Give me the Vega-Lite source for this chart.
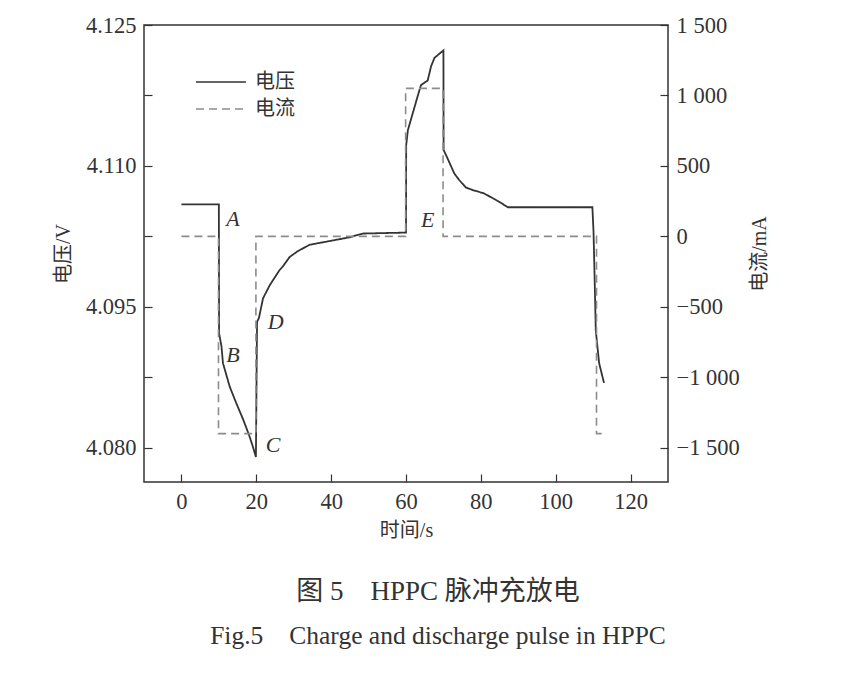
{
  "$schema": "https://vega.github.io/schema/vega-lite/v6.json",
  "width": 524,
  "height": 457,
  "autosize": {"type": "none"},
  "padding": {"left": 144, "top": 25, "right": 196, "bottom": 204},
  "background": "white",
  "title": {
    "text": "图 5　HPPC 脉冲充放电",
    "subtitle": "Fig.5　Charge and discharge pulse in HPPC",
    "orient": "bottom",
    "anchor": "middle",
    "offset": 38,
    "dx": 32,
    "font": "Liberation Serif, Noto Sans CJK SC",
    "fontSize": 27,
    "fontWeight": "normal",
    "color": "#333333",
    "subtitleFont": "Liberation Serif",
    "subtitleFontSize": 25.5,
    "subtitleColor": "#333333",
    "subtitlePadding": 18
  },
  "datasets": {
    "voltage": [
      {"i": 0, "t": 0, "V": 4.1059, "series": "电压"},
      {"i": 1, "t": 10.0, "V": 4.1059, "series": "电压"},
      {"i": 2, "t": 10.05, "V": 4.0922, "series": "电压"},
      {"i": 3, "t": 10.7, "V": 4.0908, "series": "电压"},
      {"i": 4, "t": 11.1, "V": 4.089, "series": "电压"},
      {"i": 5, "t": 12.9, "V": 4.0865, "series": "电压"},
      {"i": 6, "t": 14.7, "V": 4.0847, "series": "电压"},
      {"i": 7, "t": 16.5, "V": 4.083, "series": "电压"},
      {"i": 8, "t": 18.2, "V": 4.0812, "series": "电压"},
      {"i": 9, "t": 19.1, "V": 4.0801, "series": "电压"},
      {"i": 10, "t": 19.9, "V": 4.079, "series": "电压"},
      {"i": 11, "t": 20.2, "V": 4.0934, "series": "电压"},
      {"i": 12, "t": 20.7, "V": 4.0938, "series": "电压"},
      {"i": 13, "t": 21.8, "V": 4.0959, "series": "电压"},
      {"i": 14, "t": 23.6, "V": 4.0973, "series": "电压"},
      {"i": 15, "t": 26.2, "V": 4.0989, "series": "电压"},
      {"i": 16, "t": 27.1, "V": 4.0993, "series": "电压"},
      {"i": 17, "t": 28.9, "V": 4.1003, "series": "电压"},
      {"i": 18, "t": 31.0, "V": 4.1009, "series": "电压"},
      {"i": 19, "t": 34.2, "V": 4.1016, "series": "电压"},
      {"i": 20, "t": 39.6, "V": 4.102, "series": "电压"},
      {"i": 21, "t": 44.9, "V": 4.1024, "series": "电压"},
      {"i": 22, "t": 48.5, "V": 4.1028, "series": "电压"},
      {"i": 23, "t": 60.0, "V": 4.1029, "series": "电压"},
      {"i": 24, "t": 60.05, "V": 4.1122, "series": "电压"},
      {"i": 25, "t": 60.5, "V": 4.1138, "series": "电压"},
      {"i": 26, "t": 61.8, "V": 4.1156, "series": "电压"},
      {"i": 27, "t": 63.1, "V": 4.1174, "series": "电压"},
      {"i": 28, "t": 64.0, "V": 4.1186, "series": "电压"},
      {"i": 29, "t": 65.8, "V": 4.1191, "series": "电压"},
      {"i": 30, "t": 66.7, "V": 4.1206, "series": "电压"},
      {"i": 31, "t": 67.6, "V": 4.1215, "series": "电压"},
      {"i": 32, "t": 69.4, "V": 4.1221, "series": "电压"},
      {"i": 33, "t": 70.0, "V": 4.1223, "series": "电压"},
      {"i": 34, "t": 70.05, "V": 4.1117, "series": "电压"},
      {"i": 35, "t": 71.1, "V": 4.1108, "series": "电压"},
      {"i": 36, "t": 72.9, "V": 4.1092, "series": "电压"},
      {"i": 37, "t": 74.2, "V": 4.1085, "series": "电压"},
      {"i": 38, "t": 76.0, "V": 4.1077, "series": "电压"},
      {"i": 39, "t": 78.0, "V": 4.1074, "series": "电压"},
      {"i": 40, "t": 80.7, "V": 4.1071, "series": "电压"},
      {"i": 41, "t": 84.4, "V": 4.1063, "series": "电压"},
      {"i": 42, "t": 87.2, "V": 4.1056, "series": "电压"},
      {"i": 43, "t": 109.8, "V": 4.1056, "series": "电压"},
      {"i": 44, "t": 110.1, "V": 4.103, "series": "电压"},
      {"i": 45, "t": 110.4, "V": 4.098, "series": "电压"},
      {"i": 46, "t": 110.7, "V": 4.0925, "series": "电压"},
      {"i": 47, "t": 111.6, "V": 4.089, "series": "电压"},
      {"i": 48, "t": 112.9, "V": 4.0869, "series": "电压"}
    ],
    "current": [
      {"i": 0, "t": 0, "I": 0, "series": "电流"},
      {"i": 1, "t": 9.9, "I": 0, "series": "电流"},
      {"i": 2, "t": 9.9, "I": -1400, "series": "电流"},
      {"i": 3, "t": 19.9, "I": -1400, "series": "电流"},
      {"i": 4, "t": 19.9, "I": 0, "series": "电流"},
      {"i": 5, "t": 59.9, "I": 0, "series": "电流"},
      {"i": 6, "t": 59.9, "I": 1050, "series": "电流"},
      {"i": 7, "t": 69.9, "I": 1050, "series": "电流"},
      {"i": 8, "t": 69.9, "I": 0, "series": "电流"},
      {"i": 9, "t": 110.9, "I": 0, "series": "电流"},
      {"i": 10, "t": 110.9, "I": -1400, "series": "电流"},
      {"i": 11, "t": 112.9, "I": -1400, "series": "电流"}
    ],
    "points": [
      {"t": 13.8, "V": 4.1043, "label": "A"},
      {"t": 13.8, "V": 4.0899, "label": "B"},
      {"t": 24.5, "V": 4.0803, "label": "C"},
      {"t": 25.2, "V": 4.0934, "label": "D"},
      {"t": 65.8, "V": 4.1042, "label": "E"}
    ]
  },
  "layer": [
    {
      "layer": [
        {
          "data": {"name": "voltage"},
          "mark": {"type": "line", "strokeWidth": 1.8},
          "encoding": {
            "x": {
              "field": "t",
              "type": "quantitative",
              "scale": {"domain": [-10, 130], "nice": false, "zero": false},
              "axis": {
                "values": [0, 20, 40, 60, 80, 100, 120],
                "title": "时间/s",
                "titlePadding": 8
              }
            },
            "y": {
              "field": "V",
              "type": "quantitative",
              "scale": {"domain": [4.07635, 4.125], "nice": false, "zero": false},
              "axis": {
                "orient": "left",
                "values": [4.08, 4.0875, 4.095, 4.1025, 4.11, 4.1175, 4.125],
                "labelExpr": "indexof(['4.0800', '4.0950', '4.1100', '4.1250'], format(datum.value, '.4f')) >= 0 ? format(datum.value, '.3f') : ''",
                "title": "电压/V",
                "titlePadding": 12
              }
            },
            "order": {"field": "i"},
            "color": {
              "field": "series",
              "type": "nominal",
              "scale": {"domain": ["电压", "电流"], "range": ["#333333", "#8c8c8c"]},
              "legend": {"title": null}
            },
            "strokeDash": {
              "field": "series",
              "type": "nominal",
              "scale": {"domain": ["电压", "电流"], "range": [[1, 0], [8, 5]]},
              "legend": {"title": null}
            }
          }
        },
        {
          "data": {"name": "points"},
          "mark": {
            "type": "text",
            "font": "Liberation Serif",
            "fontStyle": "italic",
            "fontSize": 22,
            "color": "#333333",
            "align": "center",
            "baseline": "middle"
          },
          "encoding": {
            "x": {"field": "t", "type": "quantitative"},
            "y": {"field": "V", "type": "quantitative"},
            "text": {"field": "label"}
          }
        }
      ]
    },
    {
      "data": {"name": "current"},
      "mark": {"type": "line", "strokeWidth": 1.6},
      "encoding": {
        "x": {"field": "t", "type": "quantitative"},
        "y": {
          "field": "I",
          "type": "quantitative",
          "scale": {"domain": [-1743, 1500], "nice": false, "zero": false},
          "axis": {
            "orient": "right",
            "values": [-1500, -1000, -500, 0, 500, 1000, 1500],
            "labelExpr": "replace(format(datum.value, ','), ',', ' ')",
            "title": "电流/mA",
            "titleAngle": -90,
            "titlePadding": 30
          }
        },
        "order": {"field": "i"},
        "color": {"field": "series", "type": "nominal"},
        "strokeDash": {"field": "series", "type": "nominal"}
      }
    }
  ],
  "resolve": {"scale": {"y": "independent"}},
  "config": {
    "view": {"stroke": "#333333", "strokeWidth": 1.5},
    "axis": {
      "grid": false,
      "domain": false,
      "ticks": true,
      "tickSize": -8,
      "tickColor": "#333333",
      "tickWidth": 1.2,
      "labelPadding": 16,
      "labelFont": "Liberation Serif",
      "labelFontSize": 22.5,
      "labelColor": "#333333",
      "titleFont": "Liberation Serif, Noto Sans CJK SC",
      "titleFontSize": 20,
      "titleFontWeight": "normal",
      "titleColor": "#333333"
    },
    "legend": {
      "orient": "none",
      "legendX": 66,
      "legendY": 46,
      "padding": 0,
      "symbolType": "M-2.5,0H2.5",
      "symbolSize": 400,
      "symbolStrokeWidth": 1.6,
      "labelFont": "Noto Sans CJK SC",
      "labelFontSize": 20,
      "labelColor": "#333333",
      "labelOffset": 23,
      "rowPadding": 6
    }
  }
}
